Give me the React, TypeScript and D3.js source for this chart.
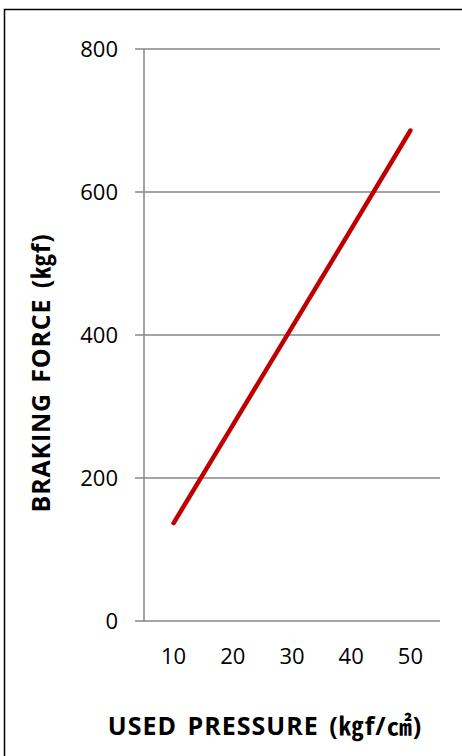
import { useEffect, useRef } from "react";
import * as d3 from "d3";

const pressures = ["10", "20", "30", "40", "50"];
const brakingForce = [137, 274, 411, 548, 686];
const yTicks = [0, 200, 400, 600, 800];

const W = 462;
const H = 756;
const FONT = "'Open Sans', 'Noto Sans CJK KR', sans-serif";

export default function App() {
  const svgRef = useRef<SVGSVGElement>(null);

  useEffect(() => {
    if (!svgRef.current) return;
    document.body.style.margin = "0";
    const svg = d3.select(svgRef.current);
    svg.selectAll("*").remove();

    const x = d3.scaleBand().domain(pressures).range([144, 440]);
    const y = d3.scaleLinear().domain([0, 800]).range([621, 49]);

    // outer frame (only top/left visible in the crop)
    svg
      .append("rect")
      .attr("x", 4.5)
      .attr("y", 9.5)
      .attr("width", W + 20)
      .attr("height", H + 20)
      .attr("fill", "none")
      .attr("stroke", "#000")
      .attr("stroke-width", 1.5);

    // gridlines + tick marks
    svg
      .append("g")
      .selectAll("line")
      .data(yTicks)
      .join("line")
      .attr("x1", 135)
      .attr("x2", 440)
      .attr("y1", (d) => y(d))
      .attr("y2", (d) => y(d))
      .attr("stroke", "#868686")
      .attr("stroke-width", 1.5);

    svg
      .append("line")
      .attr("x1", 144)
      .attr("x2", 144)
      .attr("y1", y(800))
      .attr("y2", y(0))
      .attr("stroke", "#868686")
      .attr("stroke-width", 1.5);

    svg
      .append("g")
      .selectAll("text")
      .data(yTicks)
      .join("text")
      .attr("x", 118)
      .attr("y", (d) => y(d))
      .attr("dy", "0.35em")
      .attr("text-anchor", "end")
      .attr("font-family", FONT)
      .attr("font-size", 22)
      .attr("fill", "#000")
      .text((d) => d);

    svg
      .append("g")
      .selectAll("text")
      .data(pressures)
      .join("text")
      .attr("x", (d) => x(d)! + x.bandwidth() / 2)
      .attr("y", 664)
      .attr("text-anchor", "middle")
      .attr("font-family", FONT)
      .attr("font-size", 22)
      .attr("fill", "#000")
      .text((d) => d);

    const line = d3
      .line<number>()
      .x((_, i) => x(pressures[i])! + x.bandwidth() / 2)
      .y((d) => y(d));

    svg
      .append("path")
      .datum(brakingForce)
      .attr("d", line)
      .attr("fill", "none")
      .attr("stroke", "#C00000")
      .attr("stroke-width", 4.5)
      .attr("stroke-linecap", "round")
      .attr("stroke-linejoin", "round");

    svg
      .append("text")
      .attr("x", 265)
      .attr("y", 735)
      .attr("text-anchor", "middle")
      .attr("font-family", FONT)
      .attr("font-size", 25)
      .attr("font-weight", "bold")
      .attr("letter-spacing", 1)
      .attr("word-spacing", 3)
      .attr("fill", "#000")
      .text("USED PRESSURE (㎏f/㎠)");

    svg
      .append("text")
      .attr("transform", "translate(50,373) rotate(-90)")
      .attr("text-anchor", "middle")
      .attr("font-family", FONT)
      .attr("font-size", 25)
      .attr("font-weight", "bold")
      .attr("letter-spacing", 0.8)
      .attr("word-spacing", 3)
      .attr("fill", "#000")
      .text("BRAKING FORCE (㎏f)");
  }, []);

  return (
    <svg
      ref={svgRef}
      width={W}
      height={H}
      style={{ position: "absolute", top: 0, left: 0, background: "#fff" }}
    />
  );
}
